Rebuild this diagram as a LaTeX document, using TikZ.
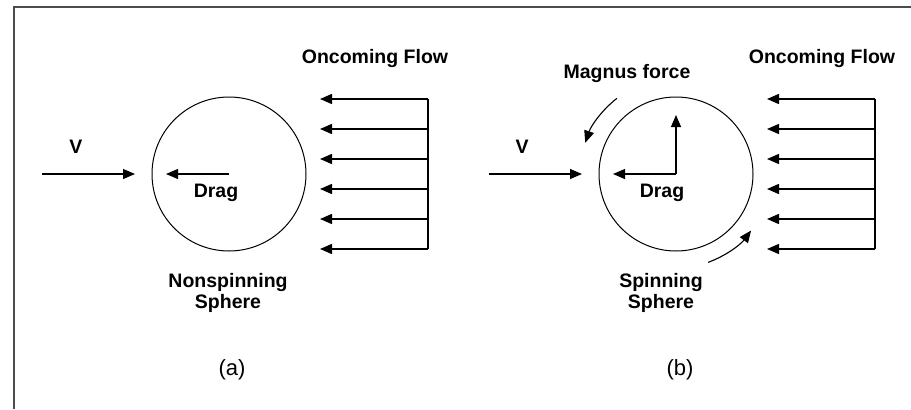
\documentclass[tikz,border=0pt]{standalone}
\usepackage{fontspec}
\setmainfont{Liberation Sans}
\usetikzlibrary{arrows.meta}
\begin{document}
\begin{tikzpicture}[x=0.5pt,y=0.5pt,
  lbl/.style={font=\fontsize{9.75}{10.5}\selectfont\bfseries, align=center, inner sep=0pt},
  captext/.style={font=\fontsize{11}{12}\selectfont, inner sep=0pt},
  sphere/.style={draw, circle, line width=0.5pt, minimum size=154*0.5pt, inner sep=0pt},
  arr/.style={line width=0.55pt, -{Triangle[length=6pt,width=5pt]}},
  flow/.style={line width=0.75pt, -{Triangle[length=6pt,width=5pt]}},
  frame/.style={line width=1pt, draw=black!70}
]
\useasboundingbox (0,0) rectangle (911,409);
% frame
\coordinate (f1) at (14,0);
\coordinate (f2) at (14,402);
\coordinate (f3) at (911,402);
\draw[frame] (f1) -- (f2) -- (f3);

% ---------- panel (a) ----------
\node[sphere] (sa) at (229,235) {};
\coordinate (va) at (42,235);
\coordinate (ta) at (135,235);
\draw[arr] (va) -- (ta);
\node[lbl] (Va) at (76,262) {V};
\coordinate (da) at (166,235);
\draw[arr] (sa.center) -- (da);
\node[lbl] (Dra) at (216,216) {Drag};
\node[lbl] (ofa) at (375,351) {Oncoming Flow};
\coordinate (fa1) at (428,310);
\coordinate (fa6) at (428,160);
\draw[line width=0.75pt] (fa1) -- (fa6);
\foreach \i/\yy in {1/310,2/280,3/250,4/220,5/190,6/160}{
  \coordinate (sa\i) at (428,\yy);
  \coordinate (ea\i) at (320,\yy);
  \draw[flow] (sa\i) -- (ea\i);
}
\node[lbl] (nsa) at (228,116) {Nonspinning\\Sphere};
\node[captext] (capa) at (232,39) {(a)};

% ---------- panel (b) ----------
\node[sphere] (sb) at (676,235) {};
\coordinate (vb) at (489,235);
\coordinate (tb) at (582,235);
\draw[arr] (vb) -- (tb);
\node[lbl] (Vb) at (522,262) {V};
\coordinate (db) at (613,235);
\coordinate (mb) at (676,294);
\draw[arr] (sb.center) -- (db);
\draw[arr] (sb.center) -- (mb);
\node[lbl] (Drb) at (662,216) {Drag};
\node[lbl] (mag) at (627,336) {Magnus force};
\node[lbl] (ofb) at (822,351) {Oncoming Flow};
\coordinate (fb1) at (875,310);
\coordinate (fb6) at (875,160);
\draw[line width=0.75pt] (fb1) -- (fb6);
\foreach \i/\yy in {1/310,2/280,3/250,4/220,5/190,6/160}{
  \coordinate (sb\i) at (875,\yy);
  \coordinate (eb\i) at (767,\yy);
  \draw[flow] (sb\i) -- (eb\i);
}
% rotation arrows
\draw[arr] ([shift={(128:96)}]sb.center) arc (128:161:96);
\draw[arr] ([shift={(-70:94)}]sb.center) arc (-70:-37:94);
\node[lbl] (ssb) at (661,116) {Spinning\\Sphere};
\node[captext] (capb) at (680,39) {(b)};
\end{tikzpicture}
\end{document}
